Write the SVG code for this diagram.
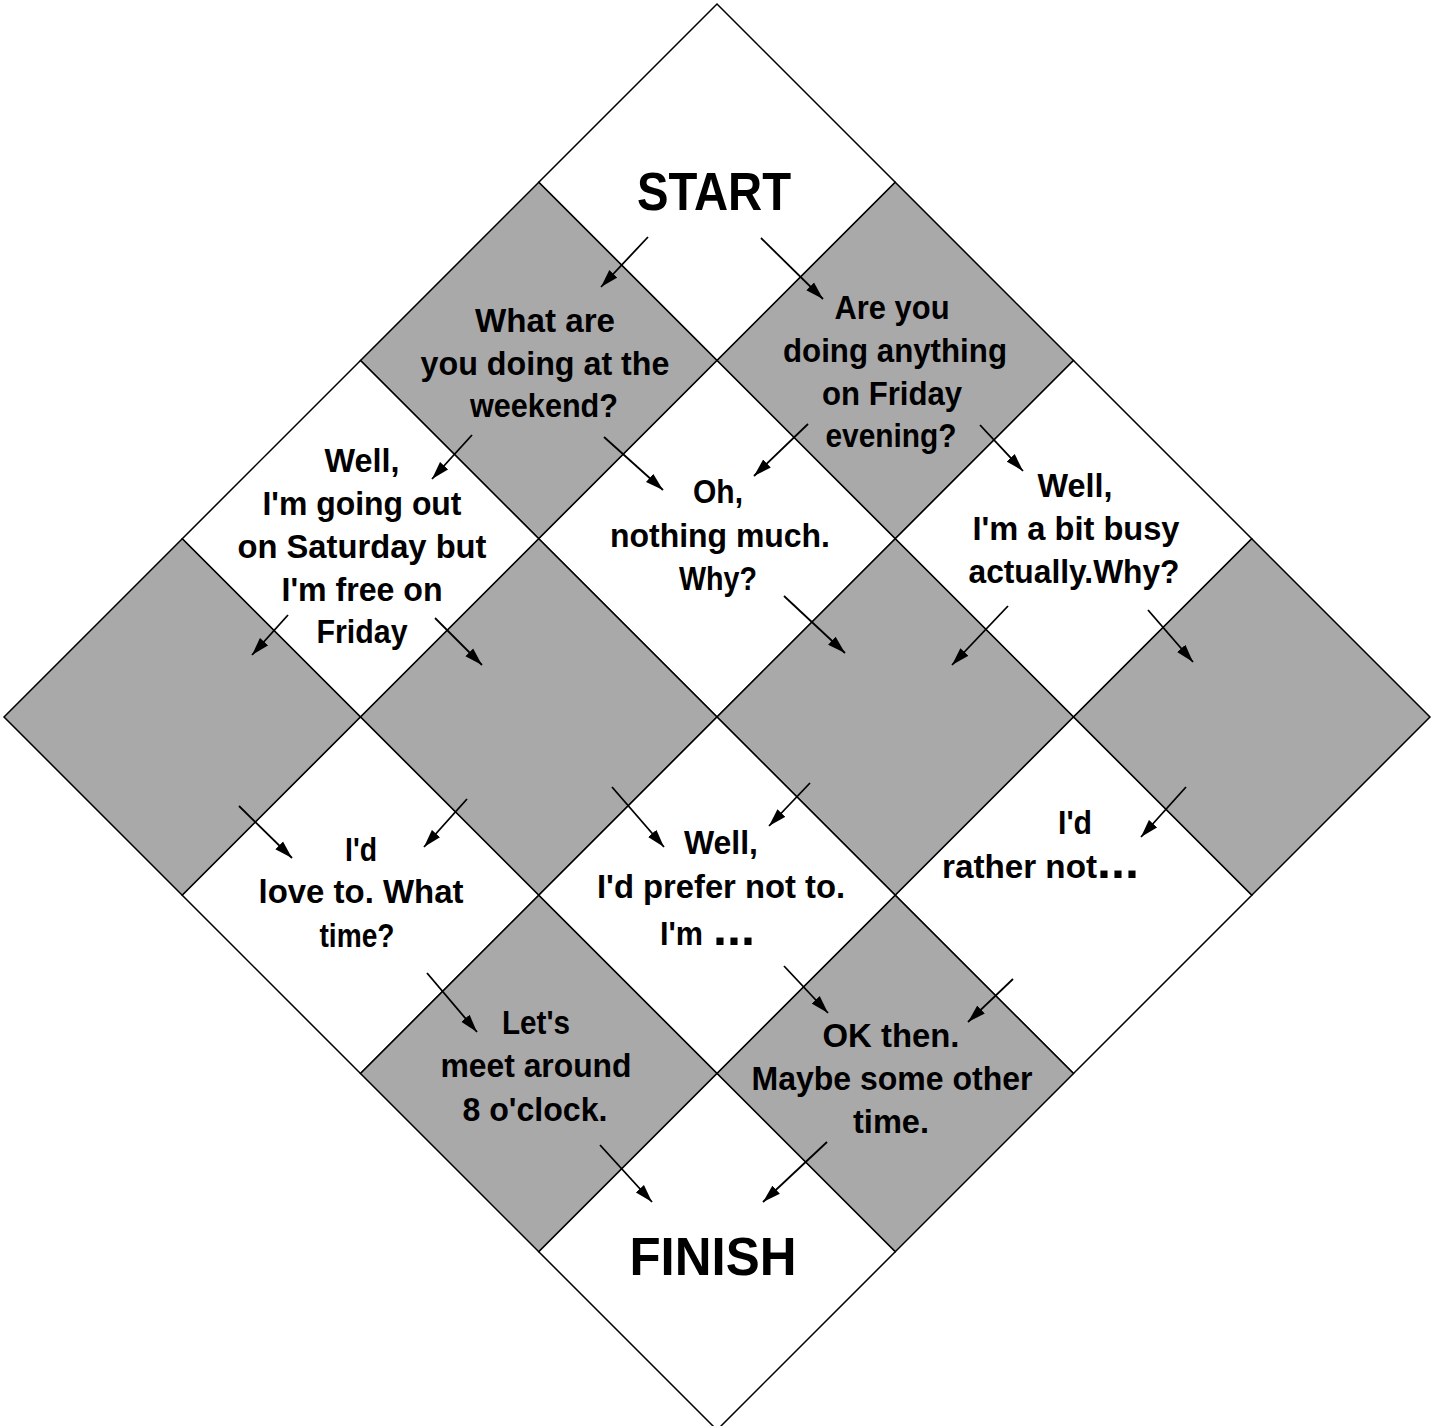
<svg xmlns="http://www.w3.org/2000/svg" width="1432" height="1426" viewBox="0 0 1432 1426">
<defs>
<style>
.w{fill:#ffffff;stroke:#000;stroke-width:1.5}
.g{fill:#a9a9a9;stroke:#000;stroke-width:1.5}
text{font-family:"Liberation Sans",Arial,sans-serif;font-weight:bold;fill:#000;font-size:34px;text-anchor:middle}
.big{font-size:54px}
.dots{font-size:50px;text-anchor:start}
.st{text-anchor:start}
.c line{stroke:#000;stroke-width:1.8;marker-end:url(#ah)}
</style>
<marker id="ah" markerUnits="userSpaceOnUse" markerWidth="19" markerHeight="12" refX="18" refY="6" orient="auto">
<path d="M0,0.5 L18,6 L0,11.5 Z" fill="#000"/>
</marker>
</defs>
<rect width="1432" height="1426" fill="#fff"/>

<g id="start">
<polygon class="w" points="717,4 895.25,182.25 717,360.5 538.75,182.25"/>
<text class="big" x="714" y="210" textLength="154" lengthAdjust="spacingAndGlyphs">START</text>
</g>
<g id="q-friday">
<polygon class="g" points="895.25,182.25 1073.5,360.5 895.25,538.75 717,360.5"/>
<text x="892" y="319" textLength="115" lengthAdjust="spacingAndGlyphs">Are you</text>
<text x="895" y="362" textLength="224" lengthAdjust="spacingAndGlyphs">doing anything</text>
<text x="892" y="405" textLength="140" lengthAdjust="spacingAndGlyphs">on Friday</text>
<text x="891" y="447" textLength="131" lengthAdjust="spacingAndGlyphs">evening?</text>
</g>
<g id="busy">
<polygon class="w" points="1073.5,360.5 1251.75,538.75 1073.5,717 895.25,538.75"/>
<text x="1075" y="497" textLength="75" lengthAdjust="spacingAndGlyphs">Well,</text>
<text x="1076" y="540" textLength="207" lengthAdjust="spacingAndGlyphs">I'm a bit busy</text>
<text x="1074" y="583" textLength="211" lengthAdjust="spacingAndGlyphs">actually.Why?</text>
</g>
<g id="blank-right">
<polygon class="g" points="1251.75,538.75 1430,717 1251.75,895.25 1073.5,717"/>
</g>

<g id="q-weekend">
<polygon class="g" points="538.75,182.25 717,360.5 538.75,538.75 360.5,360.5"/>
<text x="545" y="332" textLength="140" lengthAdjust="spacingAndGlyphs">What are</text>
<text x="545" y="375" textLength="249" lengthAdjust="spacingAndGlyphs">you doing at the</text>
<text x="544" y="417" textLength="148" lengthAdjust="spacingAndGlyphs">weekend?</text>
</g>
<g id="nothing">
<polygon class="w" points="717,360.5 895.25,538.75 717,717 538.75,538.75"/>
<text x="718" y="503" textLength="50" lengthAdjust="spacingAndGlyphs">Oh,</text>
<text x="720" y="547" textLength="220" lengthAdjust="spacingAndGlyphs">nothing much.</text>
<text x="718" y="590" textLength="78" lengthAdjust="spacingAndGlyphs">Why?</text>
</g>
<g id="blank-center">
<polygon class="g" points="895.25,538.75 1073.5,717 895.25,895.25 717,717"/>
</g>
<g id="rather-not">
<polygon class="w" points="1073.5,717 1251.75,895.25 1073.5,1073.5 895.25,895.25"/>
<text x="1075" y="834" textLength="34" lengthAdjust="spacingAndGlyphs">I'd</text>
<text class="st" x="942" y="878" textLength="155" lengthAdjust="spacingAndGlyphs">rather not</text>
<text class="dots" x="1097" y="878" textLength="42" lengthAdjust="spacingAndGlyphs">...</text>
</g>

<g id="going-out">
<polygon class="w" points="360.5,360.5 538.75,538.75 360.5,717 182.25,538.75"/>
<text x="362" y="472" textLength="75" lengthAdjust="spacingAndGlyphs">Well,</text>
<text x="362" y="515" textLength="199" lengthAdjust="spacingAndGlyphs">I'm going out</text>
<text x="362" y="558" textLength="249" lengthAdjust="spacingAndGlyphs">on Saturday but</text>
<text x="362" y="601" textLength="161" lengthAdjust="spacingAndGlyphs">I'm free on</text>
<text x="362" y="643" textLength="91" lengthAdjust="spacingAndGlyphs">Friday</text>
</g>
<g id="blank-center-left">
<polygon class="g" points="538.75,538.75 717,717 538.75,895.25 360.5,717"/>
</g>
<g id="prefer-not">
<polygon class="w" points="717,717 895.25,895.25 717,1073.5 538.75,895.25"/>
<text x="721" y="854" textLength="74" lengthAdjust="spacingAndGlyphs">Well,</text>
<text x="721" y="898" textLength="248" lengthAdjust="spacingAndGlyphs">I'd prefer not to.</text>
<text class="st" x="660" y="945" textLength="43" lengthAdjust="spacingAndGlyphs">I'm</text>
<text class="dots" x="713" y="945" textLength="42" lengthAdjust="spacingAndGlyphs">...</text>
</g>
<g id="ok-then">
<polygon class="g" points="895.25,895.25 1073.5,1073.5 895.25,1251.75 717,1073.5"/>
<text x="891" y="1047" textLength="137" lengthAdjust="spacingAndGlyphs">OK then.</text>
<text x="892" y="1090" textLength="281" lengthAdjust="spacingAndGlyphs">Maybe some other</text>
<text x="891" y="1133" textLength="76" lengthAdjust="spacingAndGlyphs">time.</text>
</g>

<g id="blank-left">
<polygon class="g" points="182.25,538.75 360.5,717 182.25,895.25 4,717"/>
</g>
<g id="love-to">
<polygon class="w" points="360.5,717 538.75,895.25 360.5,1073.5 182.25,895.25"/>
<text x="361" y="861" textLength="32" lengthAdjust="spacingAndGlyphs">I'd</text>
<text x="361" y="903" textLength="205" lengthAdjust="spacingAndGlyphs">love to. What</text>
<text x="357" y="947" textLength="75" lengthAdjust="spacingAndGlyphs">time?</text>
</g>
<g id="meet">
<polygon class="g" points="538.75,895.25 717,1073.5 538.75,1251.75 360.5,1073.5"/>
<text x="536" y="1034" textLength="68" lengthAdjust="spacingAndGlyphs">Let's</text>
<text x="536" y="1077" textLength="191" lengthAdjust="spacingAndGlyphs">meet around</text>
<text x="535" y="1121" textLength="145" lengthAdjust="spacingAndGlyphs">8 o'clock.</text>
</g>
<g id="finish">
<polygon class="w" points="717,1073.5 895.25,1251.75 717,1430 538.75,1251.75"/>
<text class="big" x="713" y="1275" textLength="167" lengthAdjust="spacingAndGlyphs">FINISH</text>
</g>

<g id="connectors" class="c">
<line x1="648" y1="237" x2="601" y2="287"/>
<line x1="761" y1="238" x2="823" y2="299"/>
<line x1="472" y1="435" x2="432" y2="479"/>
<line x1="604" y1="437" x2="663" y2="490"/>
<line x1="808" y1="424" x2="754" y2="476"/>
<line x1="980" y1="425" x2="1023" y2="471"/>
<line x1="288" y1="615" x2="252" y2="655"/>
<line x1="435" y1="618" x2="482" y2="665"/>
<line x1="784" y1="596" x2="845" y2="653"/>
<line x1="1008" y1="606" x2="952" y2="665"/>
<line x1="1148" y1="610" x2="1193" y2="662"/>
<line x1="239" y1="806" x2="292" y2="858"/>
<line x1="467" y1="799" x2="424" y2="847"/>
<line x1="612" y1="787" x2="664" y2="847"/>
<line x1="810" y1="783" x2="769" y2="826"/>
<line x1="1186" y1="787" x2="1141" y2="837"/>
<line x1="427" y1="973" x2="477" y2="1032"/>
<line x1="784" y1="966" x2="828" y2="1013"/>
<line x1="1013" y1="979" x2="968" y2="1022"/>
<line x1="600" y1="1145" x2="652" y2="1202"/>
<line x1="827" y1="1142" x2="763" y2="1202"/>
</g>
</svg>
